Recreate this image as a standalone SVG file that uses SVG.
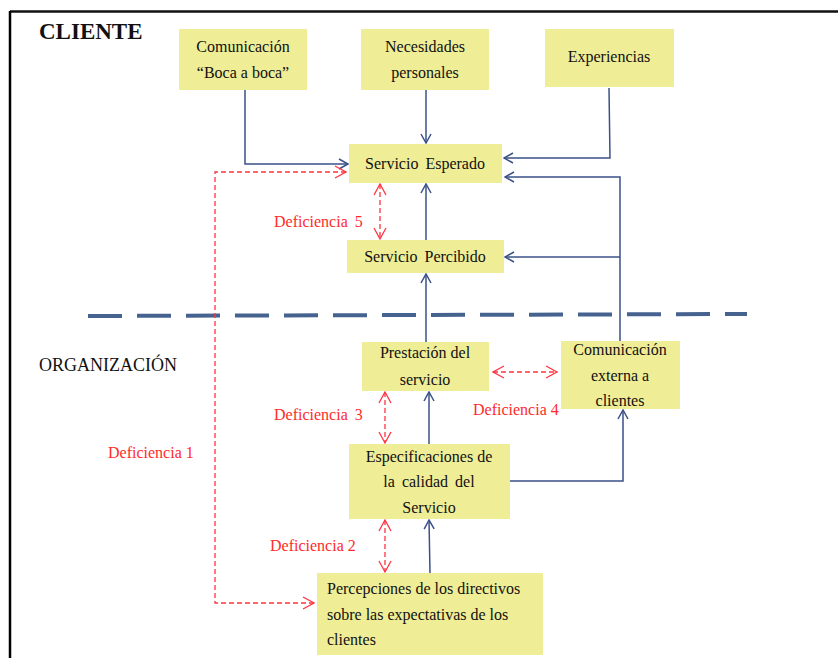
<svg xmlns="http://www.w3.org/2000/svg" width="838" height="658" viewBox="0 0 838 658">
<defs>
<style>
.box{fill:#F0ED97;}
.t{font-family:"Liberation Serif","Times New Roman",serif;font-size:16px;fill:#111;}
.c{text-anchor:middle;}
.def{font-family:"Liberation Serif","Times New Roman",serif;font-size:16px;fill:#FF2A2A;}
.blue{fill:none;stroke:#3A5088;stroke-width:1.5;}
.red{fill:none;stroke:#FF3340;stroke-width:1.3;stroke-dasharray:5 3;}
</style>
<marker id="ab" markerUnits="userSpaceOnUse" markerWidth="12" markerHeight="14" viewBox="-1 -7 11 14" refX="9" refY="0" orient="auto-start-reverse">
<path d="M0,-5 L9,0 L0,5" fill="none" stroke="#3A5088" stroke-width="1.5"/>
</marker>
<marker id="ar" markerUnits="userSpaceOnUse" markerWidth="14" markerHeight="16" viewBox="-1 -8 13 16" refX="11" refY="0" orient="auto-start-reverse">
<path d="M0,-6 L11,0 L0,6" fill="none" stroke="#FF3340" stroke-width="1.3"/>
</marker>
</defs>
<rect x="0" y="0" width="838" height="658" fill="#fff"/>
<g id="frame">
<line x1="10" y1="11.5" x2="838" y2="11.5" stroke="#111" stroke-width="2.5"/>
<line x1="10" y1="11" x2="10" y2="658" stroke="#000" stroke-width="2.5"/>
</g>
<text x="39" y="39" font-family="Liberation Serif, Times New Roman, serif" font-size="23" font-weight="bold" fill="#111">CLIENTE</text>
<text x="39" y="371" font-family="Liberation Serif, Times New Roman, serif" font-size="18" fill="#111">ORGANIZACIÓN</text>
<line id="separator" x1="88" y1="316" x2="747" y2="314" stroke="#46628F" stroke-width="4" stroke-dasharray="34 15"/>

<g id="connectors">
<polyline class="blue" points="245,90 245,164 348,164" marker-end="url(#ab)"/>
<polyline class="blue" points="426,90 426,143" marker-end="url(#ab)"/>
<polyline class="blue" points="609,88 610,158 504,158" marker-end="url(#ab)"/>
<polyline class="blue" points="620,341 620,177 505,177" marker-end="url(#ab)"/>
<polyline class="blue" points="620,257 505,257" marker-end="url(#ab)"/>
<polyline class="blue" points="426,240 426,184" marker-end="url(#ab)"/>
<polyline class="blue" points="426,342 426,274" marker-end="url(#ab)"/>
<polyline class="blue" points="429,444 429,392" marker-end="url(#ab)"/>
<polyline class="blue" points="510,481 623,481 623,410" marker-end="url(#ab)"/>
<polyline class="blue" points="430,573 429,520" marker-end="url(#ab)"/>

<polyline class="red" points="346,172 215,172 215,603 314,603" marker-start="url(#ar)" marker-end="url(#ar)"/>
<line class="red" x1="380" y1="184" x2="380" y2="239" marker-start="url(#ar)" marker-end="url(#ar)"/>
<line class="red" x1="385" y1="392" x2="385" y2="443" marker-start="url(#ar)" marker-end="url(#ar)"/>
<line class="red" x1="385" y1="520" x2="385" y2="572" marker-start="url(#ar)" marker-end="url(#ar)"/>
<line class="red" x1="493" y1="372" x2="557" y2="372" marker-start="url(#ar)" marker-end="url(#ar)"/>
</g>

<g id="n-boca">
<rect class="box" x="179" y="29" width="128" height="61"/>
<text class="t c" x="243" y="52">Comunicación</text>
<text class="t c" x="243" y="78">“Boca a boca”</text>
</g>
<g id="n-necesidades">
<rect class="box" x="361" y="29" width="128" height="61"/>
<text class="t c" x="425" y="52">Necesidades</text>
<text class="t c" x="425" y="78">personales</text>
</g>
<g id="n-experiencias">
<rect class="box" x="545" y="29" width="129" height="58"/>
<text class="t c" x="609" y="62">Experiencias</text>
</g>
<g id="n-esperado">
<rect class="box" x="349" y="144" width="153" height="39"/>
<text class="t c" x="425" y="169" word-spacing="3">Servicio Esperado</text>
</g>
<g id="n-percibido">
<rect class="box" x="347" y="240" width="157" height="33"/>
<text class="t c" x="425" y="262" word-spacing="3">Servicio Percibido</text>
</g>
<g id="n-prestacion">
<rect class="box" x="362" y="342" width="127" height="49"/>
<text class="t c" x="425" y="358">Prestación del</text>
<text class="t c" x="425" y="385">servicio</text>
</g>
<g id="n-comext">
<rect class="box" x="561" y="341" width="119" height="68"/>
<text class="t c" x="620" y="355">Comunicación</text>
<text class="t c" x="620" y="381">externa a</text>
<text class="t c" x="620" y="406">clientes</text>
</g>
<g id="n-especificaciones">
<rect class="box" x="349" y="444" width="161" height="75"/>
<text class="t c" x="429" y="462">Especificaciones de</text>
<text class="t c" x="429" y="487" word-spacing="3">la calidad del</text>
<text class="t c" x="429" y="513">Servicio</text>
</g>
<g id="n-percepciones">
<rect class="box" x="317" y="573" width="226" height="82"/>
<text class="t" x="327" y="594">Percepciones de los directivos</text>
<text class="t" x="327" y="620">sobre las expectativas de los</text>
<text class="t" x="327" y="645">clientes</text>
</g>

<g id="labels">
<text class="def" x="274" y="227" word-spacing="3">Deficiencia 5</text>
<text class="def" x="274" y="420" word-spacing="3">Deficiencia 3</text>
<text class="def" x="473" y="415">Deficiencia 4</text>
<text class="def" x="108" y="458">Deficiencia 1</text>
<text class="def" x="270" y="551">Deficiencia 2</text>
</g>
</svg>
